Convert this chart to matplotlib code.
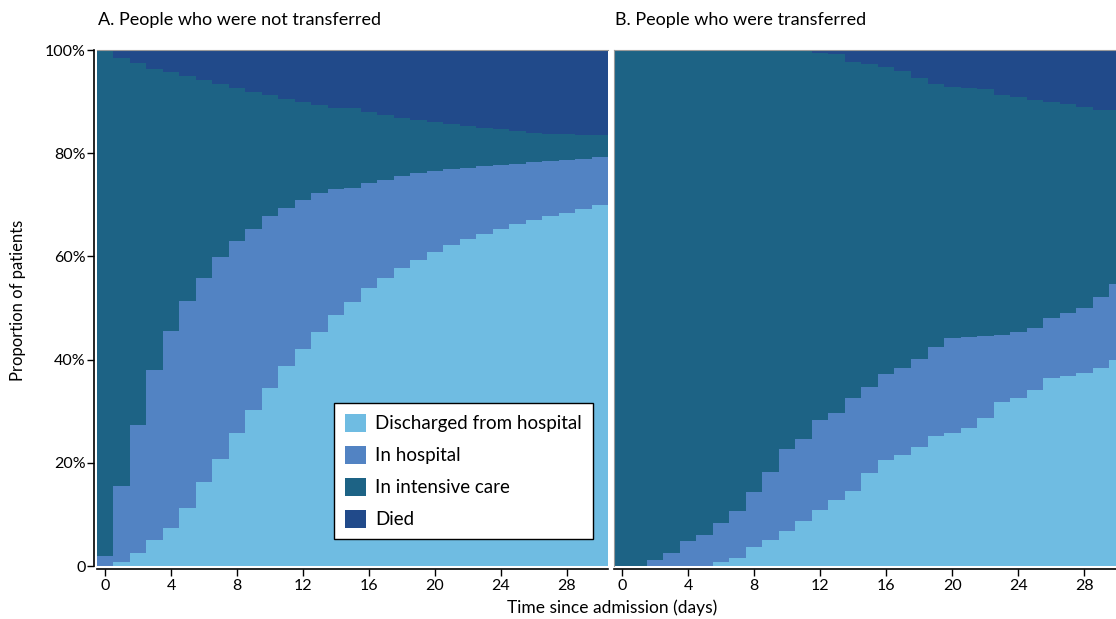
import numpy as np
import matplotlib
matplotlib.use('Agg')
import matplotlib.pyplot as plt
from matplotlib.patches import Patch

plt.rcParams['font.family'] = ['Lato', 'DejaVu Sans']

days = np.arange(0, 31)
states = ['Discharged from hospital', 'In hospital', 'In intensive care', 'Died']
colours = ['#6fbce2', '#5283c3', '#1d6385', '#214a8a']

# A. not transferred (% of patients in each state per day)
a_discharged = [0, 0.8, 2.6, 5.0, 7.3, 11.3, 16.2, 20.8, 25.7, 30.3, 34.5, 38.8, 42.0, 45.3, 48.6, 51.2,
                53.8, 55.9, 57.7, 59.3, 60.9, 62.2, 63.3, 64.3, 65.4, 66.2, 67.1, 67.8, 68.5, 69.1, 70.0]
a_hospital = [2.0, 14.7, 24.8, 33.0, 38.3, 40.0, 39.6, 39.1, 37.2, 35.0, 33.3, 30.6, 28.9, 26.9, 24.4, 22.0,
              20.4, 19.0, 17.9, 16.8, 15.7, 14.7, 13.9, 13.2, 12.3, 11.7, 11.1, 10.6, 10.1, 9.7, 9.2]
a_icu = [98.0, 82.9, 70.0, 58.4, 50.1, 43.7, 38.4, 33.5, 29.8, 26.6, 23.5, 21.2, 19.1, 17.1, 15.8, 15.5,
         13.8, 12.5, 11.3, 10.3, 9.4, 8.7, 8.0, 7.3, 6.9, 6.4, 5.8, 5.4, 5.1, 4.8, 4.3]
a_died = [0, 1.6, 2.6, 3.6, 4.3, 5.0, 5.8, 6.6, 7.3, 8.1, 8.7, 9.4, 10.0, 10.7, 11.2, 11.3,
          12.0, 12.6, 13.1, 13.6, 14.0, 14.4, 14.8, 15.2, 15.4, 15.7, 16.0, 16.2, 16.3, 16.4, 16.5]

# B. transferred
b_discharged = [0, 0, 0, 0, 0, 0, 0.8, 1.5, 3.7, 5.0, 6.8, 8.8, 10.9, 12.8, 14.5, 18.0,
                20.5, 21.5, 23.1, 25.2, 25.7, 26.7, 28.6, 31.7, 32.5, 34.1, 36.4, 36.8, 37.5, 38.4, 40.0]
b_hospital = [0, 0, 1.2, 2.5, 4.8, 6.0, 7.6, 9.2, 10.6, 13.3, 15.8, 15.9, 17.4, 16.8, 18.1, 16.7,
              16.8, 16.8, 17.1, 17.2, 18.5, 17.7, 16.0, 13.1, 12.9, 12.0, 11.7, 12.2, 12.5, 13.8, 14.6]
b_icu = [100, 100, 98.8, 97.5, 95.2, 94.0, 91.6, 89.3, 85.7, 81.7, 77.4, 75.1, 71.2, 69.6, 65.1, 62.5,
         59.5, 57.6, 54.3, 51.1, 48.7, 48.3, 47.8, 46.5, 45.4, 44.3, 41.9, 40.5, 39.0, 36.2, 33.8]
b_died = [0, 0, 0, 0, 0, 0, 0, 0, 0, 0, 0, 0.2, 0.5, 0.8, 2.3, 2.8,
          3.2, 4.1, 5.5, 6.5, 7.1, 7.3, 7.6, 8.7, 9.2, 9.6, 10.0, 10.5, 11.0, 11.6, 11.6]

xticks = [0, 4, 8, 12, 16, 20, 24, 28]
yticks = [0, 20, 40, 60, 80, 100]
ytick_labels = ['0', '20%', '40%', '60%', '80%', '100%']

W, H = 1116, 619
fig = plt.figure(figsize=(W / 100, H / 100), dpi=100)
ax_a = fig.add_axes([97 / W, 1 - 566 / H, 511 / W, 516 / H])
ax_b = fig.add_axes([613.7 / W, 1 - 566 / H, 512 / W, 516 / H])

edges = np.append(days - 0.5, days[-1] + 0.5)


def draw_panel(ax, series):
    bottom = np.zeros(len(days))
    for vals, col in zip(series, colours):
        top = bottom + np.array(vals)
        ax.stairs(top, edges, baseline=bottom, fill=True, color=col, lw=0)
        bottom = top
    ax.set_xlim(edges[0], edges[-1])
    ax.set_ylim(0, 100)
    ax.set_xticks(xticks)
    ax.set_xticklabels([str(t) for t in xticks])
    ax.tick_params(axis='both', direction='out', length=5, width=1, color='black',
                   labelsize=11.5, pad=2)
    ax.spines['right'].set_visible(False)
    ax.spines['top'].set_color('#9a9a9a')
    ax.spines['bottom'].set_position(('outward', 2))
    ax.spines['bottom'].set_linewidth(1.2)


draw_panel(ax_a, [a_discharged, a_hospital, a_icu, a_died])
draw_panel(ax_b, [b_discharged, b_hospital, b_icu, b_died])

ax_a.set_yticks(yticks)
ax_a.set_yticklabels(ytick_labels)
ax_a.tick_params(axis='y', pad=1)
ax_a.spines['left'].set_position(('outward', 2))
ax_a.spines['left'].set_linewidth(1.2)

ax_b.set_yticks([])
ax_b.spines['left'].set_color('#9a9a9a')

handles = [Patch(facecolor=c, edgecolor='none', label=s) for s, c in zip(states, colours)]
ax_a.legend(handles=handles, loc='lower right', bbox_to_anchor=(0.971, 0.052), fontsize=13.5,
            frameon=True, fancybox=False, edgecolor='black', framealpha=1,
            handlelength=1.1, handleheight=1.1, labelspacing=0.72, borderpad=0.6,
            handletextpad=0.5, borderaxespad=0).get_frame().set_linewidth(1)

fig.text(98 / W, 1 - 20 / H, 'A. People who were not transferred', fontsize=13, va='center')
fig.text(615 / W, 1 - 20 / H, 'B. People who were transferred', fontsize=13, va='center')
fig.text(612 / W, 1 - 608 / H, 'Time since admission (days)', fontsize=12.5, ha='center', va='center')
fig.text(18 / W, 1 - 300 / H, 'Proportion of patients', fontsize=12, ha='center', va='center',
         rotation=90)

fig.savefig('out.png', dpi=100)
